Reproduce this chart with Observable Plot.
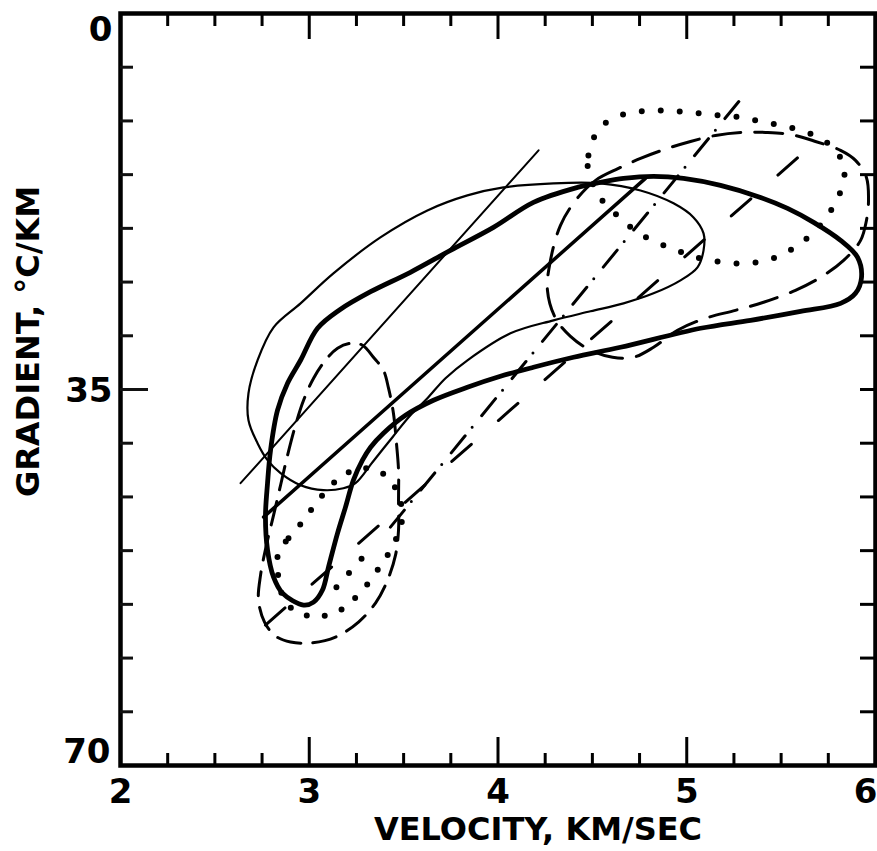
<!DOCTYPE html>
<html><head><meta charset="utf-8">
<script src="https://cdn.jsdelivr.net/npm/d3@7"></script>
<script src="https://cdn.jsdelivr.net/npm/@observablehq/plot@0.6"></script>
<style>html,body{margin:0;padding:0;background:#fff;} svg{display:block}</style>
</head><body><div id="chart"></div>
<script>
// Velocity (km/s), gradient (°C/km) pairs
const thickContour = [
[2.970,55.07],[2.858,53.95],[2.811,52.47],[2.779,49.95],[2.768,46.88],[2.779,43.72],[2.795,40.65],[2.832,36.93],[2.885,34.42],[2.954,32.28],[3.044,29.30],[3.160,27.60],[3.325,25.90],[3.536,24.09],[3.748,22.05],[3.976,19.91],[4.188,17.58],[4.421,16.19],[4.543,15.72],[4.665,15.35],[4.824,15.16],[4.983,15.35],[5.179,16.00],[5.391,17.12],[5.534,18.14],[5.672,19.44],[5.815,21.12],[5.905,22.70],[5.926,24.56],[5.894,26.05],[5.815,26.98],[5.603,27.72],[5.338,28.56],[5.073,29.30],[4.649,31.07],[4.400,32.00],[4.188,32.93],[4.013,33.77],[3.838,34.79],[3.658,36.00],[3.510,37.40],[3.393,39.07],[3.325,40.37],[3.282,41.58],[3.234,43.44],[3.192,45.95],[3.150,48.37],[3.102,51.53],[3.070,53.67],[3.023,54.79]
];
const thinContour = [
[3.245,43.72],[3.335,41.77],[3.441,39.44],[3.536,37.40],[3.626,35.81],[3.722,33.95],[3.838,32.28],[4.066,29.77],[4.294,28.56],[4.490,27.72],[4.665,26.98],[4.824,26.05],[4.967,24.84],[5.057,23.63],[5.089,22.05],[5.089,20.47],[5.036,18.98],[4.930,17.67],[4.755,16.47],[4.543,15.81],[4.294,15.81],[4.029,16.19],[3.838,16.93],[3.626,18.33],[3.377,20.84],[3.128,24.19],[2.954,26.98],[2.811,29.21],[2.726,32.28],[2.678,35.35],[2.678,37.86],[2.726,40.00],[2.779,41.58],[2.848,42.79],[2.954,43.91],[3.075,44.37],[3.181,44.19]
];
const dashedUpperContour = [
[4.411,17.40],[4.517,15.53],[4.638,14.42],[4.755,13.49],[4.898,12.56],[5.020,11.91],[5.152,11.35],[5.285,11.07],[5.417,11.07],[5.550,11.26],[5.682,11.91],[5.815,12.74],[5.894,13.67],[5.952,15.26],[5.963,17.40],[5.952,19.26],[5.921,21.12],[5.831,22.98],[5.709,24.56],[5.576,25.77],[5.407,26.88],[5.258,27.63],[5.099,28.37],[4.951,29.49],[4.824,31.07],[4.718,32.00],[4.607,32.00],[4.490,31.35],[4.384,30.05],[4.305,28.37],[4.262,25.77],[4.278,22.98],[4.331,19.72]
];
const dashedLowerContour = [
[3.219,30.70],[3.282,30.88],[3.340,32.00],[3.393,33.21],[3.420,34.88],[3.446,37.21],[3.462,40.00],[3.473,42.51],[3.473,45.30],[3.473,48.09],[3.457,50.42],[3.415,52.74],[3.351,54.88],[3.261,56.65],[3.139,58.05],[3.007,58.60],[2.901,58.51],[2.821,57.95],[2.763,56.65],[2.731,54.60],[2.742,52.28],[2.773,49.49],[2.811,46.70],[2.848,43.91],[2.885,41.12],[2.927,38.33],[2.970,36.00],[3.023,33.95],[3.086,32.28],[3.150,31.16]
];
const dottedUpperContour = [
[4.479,14.70],[4.479,13.21],[4.506,11.63],[4.554,10.42],[4.649,9.49],[4.755,9.12],[4.861,9.02],[4.967,9.12],[5.073,9.30],[5.179,9.49],[5.285,9.67],[5.391,10.05],[5.497,10.42],[5.603,10.88],[5.709,11.63],[5.788,12.74],[5.831,14.14],[5.831,15.72],[5.793,17.40],[5.740,18.98],[5.666,20.47],[5.587,21.58],[5.497,22.51],[5.375,23.16],[5.248,23.26],[5.126,22.98],[5.030,22.60],[4.935,21.95],[4.840,21.30],[4.739,20.37],[4.649,19.07],[4.548,17.30]
];
const dottedLowerContour = [
[2.837,50.14],[2.890,48.84],[2.954,47.53],[3.017,46.05],[3.075,44.74],[3.134,43.63],[3.208,42.70],[3.298,42.33],[3.388,42.79],[3.457,44.19],[3.489,45.86],[3.489,47.44],[3.452,49.21],[3.399,50.88],[3.346,52.19],[3.287,53.58],[3.213,54.88],[3.139,55.81],[3.038,56.09],[2.943,55.81],[2.869,54.60],[2.837,52.56]
];
const dottedSegment = [[3.144,53.40],[3.340,49.49]];
// Straight (fitted) lines
const thinLine = [[2.636,43.72],[4.215,12.74]];
const thickLine = [[2.758,46.88],[4.781,15.35]];
const dashDotLine = [[3.430,47.81],[5.285,8.00]];
const dashedLine = [[2.768,56.93],[5.698,11.72]];

// Axes
const xMinorTicks = [2.25,2.5,2.75,3.25,3.5,3.75,4.25,4.5,4.75,5.25,5.5,5.75];
const xMajorTicks = [3,4,5];
const xLabels = [2,3,4,5];
const xLastLabel = [6];
const yMinorTicks = [5,10,15,20,25,30,40,45,50,55,60,65];
const yMajorTicks = [35];
const yRightTicks = [5,10,15,20,25,30,35,40,45,50,55,60,65];
const yTopLabel = [0], yMidLabel = [35], yBottomLabel = [70];
const xTitle = "VELOCITY, KM/SEC";
const yTitle = "GRADIENT, °C/KM";

const W = 877 - 120 - 2, H = 851 - 13 - 86;
const font = {fontFamily: "DejaVu Sans", fontWeight: "bold", fill: "#000"};
const px = d => d[0], py = d => d[1];
const fmt = d => String(d);

const chart = Plot.plot({
  width: 877, height: 851,
  marginLeft: 120, marginRight: 2, marginTop: 13, marginBottom: 86,
  style: {background: "#fff", color: "#000", fontFamily: "DejaVu Sans"},
  x: {domain: [2, 6]},
  y: {domain: [0, 70], reverse: true},
  marks: [
    Plot.line(thinContour, {x: px, y: py, curve: "catmull-rom-closed", stroke: "#000", strokeWidth: 2.2}),
    Plot.line(thickContour, {x: px, y: py, curve: "catmull-rom-closed", stroke: "#000", strokeWidth: 4.8}),
    Plot.line(dashedUpperContour, {x: px, y: py, curve: "catmull-rom-closed", stroke: "#000", strokeWidth: 3, strokeDasharray: "28 14", strokeLinecap: "round"}),
    Plot.line(dashedLowerContour, {x: px, y: py, curve: "catmull-rom-closed", stroke: "#000", strokeWidth: 3, strokeDasharray: "24 12", strokeLinecap: "round"}),
    Plot.line(dottedUpperContour, {x: px, y: py, curve: "catmull-rom-closed", stroke: "#000", strokeWidth: 6, strokeDasharray: "0 19", strokeLinecap: "round"}),
    Plot.line(dottedLowerContour, {x: px, y: py, curve: "catmull-rom-closed", stroke: "#000", strokeWidth: 6, strokeDasharray: "0 18", strokeLinecap: "round"}),
    Plot.line(dottedSegment, {x: px, y: py, stroke: "#000", strokeWidth: 6, strokeDasharray: "0 19", strokeLinecap: "round"}),
    Plot.line(thinLine, {x: px, y: py, stroke: "#000", strokeWidth: 2}),
    Plot.line(thickLine, {x: px, y: py, stroke: "#000", strokeWidth: 3.5}),
    Plot.line(dashDotLine, {x: px, y: py, stroke: "#000", strokeWidth: 3, strokeDasharray: "22 11 0 15", strokeLinecap: "round"}),
    Plot.line(dashedLine, {x: px, y: py, stroke: "#000", strokeWidth: 3, strokeDasharray: "26 36", strokeLinecap: "round"}),
    Plot.frame({stroke: "#000", strokeWidth: 4.5}),
    // labels
    Plot.axisX({anchor: "bottom", ticks: xLabels, tickFormat: fmt, tickSize: 0, tickPadding: 13, fontSize: 34, ...font, label: null}),
    Plot.axisX({anchor: "bottom", ticks: xLastLabel, tickFormat: fmt, tickSize: 0, tickPadding: 13, dx: -10, fontSize: 34, ...font, label: null}),
    Plot.axisY({anchor: "left", ticks: yTopLabel, tickFormat: fmt, tickSize: 0, tickPadding: 8, dy: 17, fontSize: 34, ...font, label: null}),
    Plot.axisY({anchor: "left", ticks: yMidLabel, tickFormat: fmt, tickSize: 0, tickPadding: 8, dy: 2, fontSize: 34, ...font, label: null}),
    Plot.axisY({anchor: "left", ticks: yBottomLabel, tickFormat: fmt, tickSize: 0, tickPadding: 10, dy: -13, fontSize: 34, ...font, label: null}),
    Plot.text([xTitle], {text: d => d, frameAnchor: "bottom", textAnchor: "middle", dx: 40, dy: 64, lineAnchor: "middle", fontSize: 32, ...font}),
    Plot.text([yTitle], {text: d => d, frameAnchor: "left", textAnchor: "middle", dx: -92, dy: -48, rotate: -90, lineAnchor: "middle", fontSize: 32, ...font}),
    // inward ticks
    Plot.tickX(xMinorTicks, {x: d => d, insetTop: H - 12, stroke: "#000", strokeWidth: 3}),
    Plot.tickX(xMajorTicks, {x: d => d, insetTop: H - 28, stroke: "#000", strokeWidth: 3}),
    Plot.tickX(xMinorTicks, {x: d => d, insetBottom: H - 13, stroke: "#000", strokeWidth: 3}),
    Plot.tickX(xMajorTicks, {x: d => d, insetBottom: H - 26, stroke: "#000", strokeWidth: 3}),
    Plot.tickY(yRightTicks, {y: d => d, insetLeft: W - 15, stroke: "#000", strokeWidth: 3}),
    Plot.tickY(yMinorTicks, {y: d => d, insetRight: W - 13, stroke: "#111", strokeWidth: 3}),
    Plot.tickY(yMajorTicks, {y: d => d, insetRight: W - 28, stroke: "#111", strokeWidth: 3})
  ]
});
document.getElementById("chart").appendChild(chart);
</script>
</body></html>
